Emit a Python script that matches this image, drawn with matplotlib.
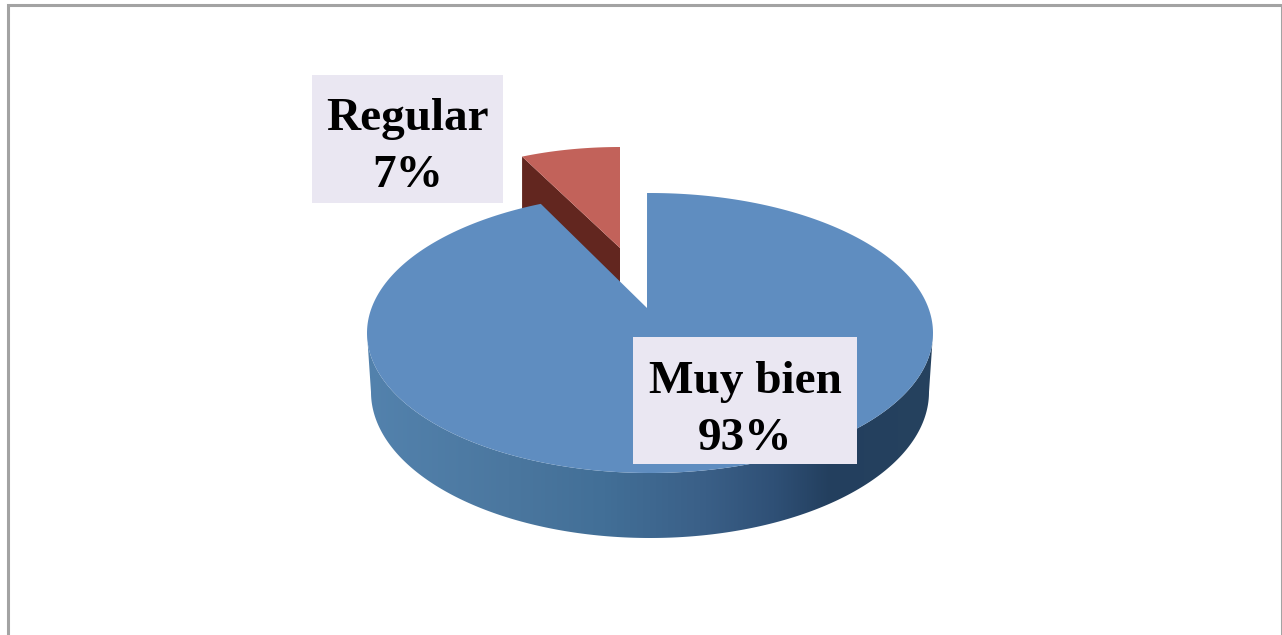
import numpy as np
import matplotlib
matplotlib.use("Agg")
import matplotlib.pyplot as plt
from matplotlib.colors import LinearSegmentedColormap
from matplotlib.patches import Polygon, Rectangle

categories = ["Muy bien", "Regular"]
percents = [93, 7]

W, H = 1282, 635
BLUE = "#5f8dc0"; RED = "#c2625a"; DARK_RED = "#62261f"; BOX = "#eae7f2"; EDGE = "#a3a3a3"
wall_cmap = LinearSegmentedColormap.from_list("wall", [
    (0.0, "#5382ad"), (0.25, "#4b779f"), (0.42, "#426f97"), (0.6, "#3a5f87"),
    (0.72, "#2f5076"), (0.82, "#233f5e"), (1.0, "#26425f")])


def arc(cx, cy, rx, ry, a0, a1, n=300):
    t = np.radians(np.linspace(a0, a1, n))
    return np.column_stack([cx + rx * np.cos(t), cy - ry * np.sin(t)])


fig = plt.figure(figsize=(W / 100, H / 100), dpi=100, facecolor="white")
ax = fig.add_axes([0, 0, 1, 1])
ax.axis("off")

cx, cy, rx, ry = 650, 333, 283, 140
big = 3.6 * percents[0]; small = 3.6 * percents[1]

# side wall of the big slice, gradient clipped to the front rim (lower outline is a tighter ellipse)
rim = np.vstack([arc(cx, cy, rx, ry, 180, 360), arc(cx, 392, 279, 146, 360, 180)])
clip = Polygon(rim, closed=True, transform=ax.transData, fc="none", ec="none")
ax.add_patch(clip)
im = ax.imshow(np.linspace(0, 1, 256).reshape(1, -1), cmap=wall_cmap, aspect="auto",
               extent=(cx - rx, cx + rx, 538, cy), zorder=1)
im.set_clip_path(clip)

# exploded slice, drawn first so the big slice covers the bottom of its wall
ex, ey, erx, ery, edepth = 620, 248, 230, 101, 36
top = arc(ex, ey, erx, ery, 90, 90 + small, 40)
ax.add_patch(Polygon([top[-1], (ex, ey), (ex, ey + edepth), (top[-1][0], top[-1][1] + 52)],
                     closed=True, fc=DARK_RED, ec="none", zorder=2))
ax.add_patch(Polygon(np.vstack([[(ex, ey)], top]), closed=True, fc=RED, ec="none", zorder=3))

# top face of the big slice, apex sits above the ellipse centre; small trims for the perspective
face = np.vstack([[(647, 308)], arc(cx, cy, rx, ry, 90 + small - 2.5, 90 + small + big + 0.6)])
ax.add_patch(Polygon(face, closed=True, fc=BLUE, ec="none", zorder=4))

# label boxes
for name, pct, (x0, y0, x1, y1), y_lines in [
        (categories[0], percents[0], (633, 337, 857, 464), (382, 439)),
        (categories[1], percents[1], (312, 75, 503, 203), (119, 176))]:
    ax.add_patch(Rectangle((x0, y0), x1 - x0, y1 - y0, fc=BOX, ec="none", zorder=5))
    for y, s in zip(y_lines, (name, f"{pct}%")):
        ax.text((x0 + x1) / 2, y, s, family="Liberation Serif", weight="bold", fontsize=34,
                color="black", ha="center", va="center", zorder=6)

# outer frame
ax.plot([7.5, 7.5, W, W], [H, 5, 5, H], color=EDGE, lw=2.2, solid_joinstyle="miter",
        clip_on=False, zorder=7)

ax.set_xlim(0, W)
ax.set_ylim(H, 0)
fig.savefig("out.png", dpi=100)
